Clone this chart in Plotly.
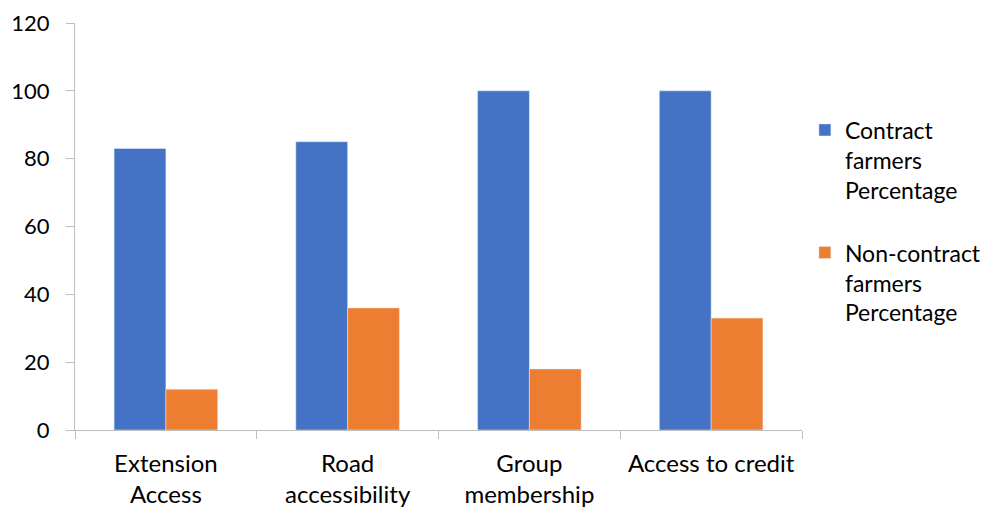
import plotly.graph_objects as go

categories = ["Extension<br>Access", "Road<br>accessibility", "Group<br>membership", "Access to credit"]
contract = [83, 85, 100, 100]
non_contract = [12, 36, 18, 33]
series_names = ["Contract<br>farmers<br>Percentage", "Non-contract<br>farmers<br>Percentage"]
y_ticks = [0, 20, 40, 60, 80, 100, 120]

fig = go.Figure()
fig.add_trace(go.Bar(x=categories, y=contract, name=series_names[0], marker_color="#4472C4",
                     legendgroup="a"))
fig.add_trace(go.Bar(x=categories, y=non_contract, name=series_names[1], marker_color="#ED7D31",
                     legendgroup="b"))

axis_color = "#BFBFBF"
fig.update_layout(
    width=987, height=508,
    margin=dict(l=75, r=185, t=23, b=78, autoexpand=False),
    paper_bgcolor="white", plot_bgcolor="white",
    font=dict(family="Lato, Open Sans, sans-serif", size=24, color="#000000"),
    barmode="group", bargap=0.43, bargroupgap=0,
    showlegend=True,
    legend=dict(x=1.004, y=0.79, xanchor="left", yanchor="top", valign="top",
                tracegroupgap=30, itemwidth=30, font=dict(size=23),
                bgcolor="rgba(0,0,0,0)"),
    xaxis=dict(showline=True, linecolor=axis_color, linewidth=1,
               ticks="outside", tickson="boundaries", ticklen=8, tickcolor=axis_color,
               showgrid=False, tickfont=dict(size=24), ticklabelstandoff=12),
    yaxis=dict(range=[0, 120], tickvals=y_ticks, showline=True, linecolor=axis_color, linewidth=1,
               ticks="outside", ticklen=8, tickcolor=axis_color, showgrid=False,
               zeroline=False, tickfont=dict(size=22), ticklabelstandoff=12),
)

fig.write_html("out.html")
